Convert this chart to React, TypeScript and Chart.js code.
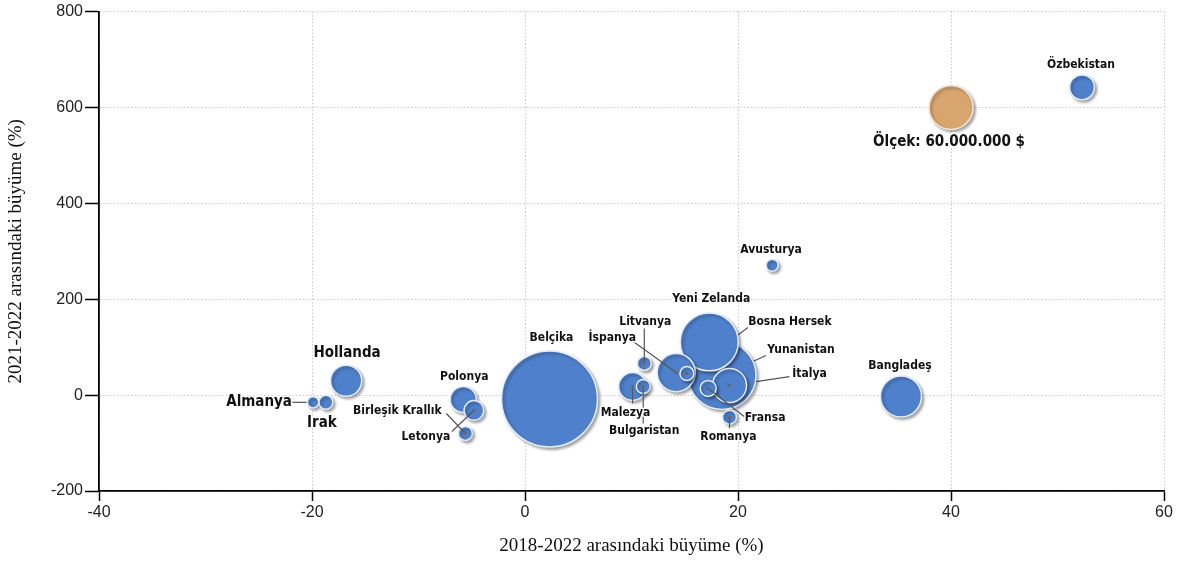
import React, { useEffect, useRef } from 'react';
import { Chart, registerables } from 'chart.js';

Chart.register(...registerables);

// ---- Data ----
const countries = [
  'Belçika', 'Yunanistan', 'Yeni Zelanda', 'İtalya', 'Fransa', 'Romanya', 'İspanya',
  'Bosna Hersek', 'Litvanya', 'Malezya', 'Bulgaristan', 'Avusturya', 'Bangladeş',
  'Özbekistan', 'Hollanda', 'Almanya', 'Irak', 'Polonya', 'Letonya', 'Birleşik Krallık',
];
// 2018-2022 growth (%)
const growth2018 = [2.3, 18.5, 17.3, 19.2, 17.2, 19.2, 14.2, 15.2, 11.2, 10.1, 11.1, 23.2, 35.3, 52.3, -16.8, -19.9, -18.7, -5.8, -4.8, -5.6];
// 2021-2022 growth (%)
const growth2021 = [-8, 41, 111, 20, 14, -46, 47, 45, 66, 18, 18, 271, -3, 642, 30, -15, -15, -9, -32, -80];
// trade value (million $)
const valueMillionUsd = [285, 143, 104, 36, 8, 6, 45, 6, 6, 24, 6, 4.5, 52, 19, 30, 4, 6, 21, 12, 6];

const scaleLabel = ['Ölçek: 60.000.000 $'];
const scaleX = [40];
const scaleY = [600];
const scaleValue = [60];

const xTicks = [-40, -20, 0, 20, 40, 60];
const yTicks = [-200, 0, 200, 400, 600, 800];

const xTitle = '2018-2022 arasındaki büyüme (%)';
const yTitle = '2021-2022 arasındaki büyüme (%)';

// ---- Styling / layout ----
const LABEL_FONT = "'DejaVu Sans Condensed', 'DejaVu Sans', sans-serif";
const TICK_FONT = "'Liberation Sans', Arial, sans-serif";
const TITLE_FONT = "'Liberation Serif', 'Times New Roman', serif";
const BLUE = '#4e80cc';
const TAN = '#d8a56e';

const refRadius = 22; // pixel radius of the 60M$ reference bubble
const toRadius = (v: number) => refRadius * Math.sqrt(v / scaleValue[0]);

type LabelCfg = { dx: number; dy: number; big?: boolean; line?: [number, number, number, number]; under?: boolean; dot?: boolean };
const labelLayout: Record<string, LabelCfg> = {
  'Belçika': { dx: 2, dy: -61 },
  'Yunanistan': { dx: 79, dy: -26, line: [44, -20, 0, 0], under: true },
  'Yeni Zelanda': { dx: 2, dy: -43 },
  'İtalya': { dx: 80, dy: -12, line: [60, -9, 0, 0], under: true, dot: true },
  'Fransa': { dx: 57, dy: 29, line: [0, 0, 36, 28], dot: true },
  'Romanya': { dx: -1, dy: 20, line: [0, 0, 0, 11], dot: true },
  'İspanya': { dx: -64, dy: -35, line: [-43, -31, 0, 0], dot: true },
  'Bosna Hersek': { dx: 103, dy: -52, line: [61, -46, 0, 0], under: true, dot: true },
  'Litvanya': { dx: 1, dy: -42, line: [0, -35, 0, 0], dot: true },
  'Malezya': { dx: -7, dy: 26, line: [0, 0, 0, 17], dot: true },
  'Bulgaristan': { dx: 1, dy: 44, line: [0, 0, 0, 37], dot: true },
  'Avusturya': { dx: -1, dy: -15 },
  'Bangladeş': { dx: -1, dy: -31 },
  'Özbekistan': { dx: -1, dy: -22 },
  'Hollanda': { dx: 1, dy: -28, big: true },
  'Almanya': { dx: -54, dy: 0, big: true, line: [-22, 0, 0, 0], under: true },
  'Irak': { dx: -4, dy: 21, big: true },
  'Polonya': { dx: 1, dy: -23 },
  'Letonya': { dx: -48, dy: 26, line: [-22, 21, 0, 0], dot: true },
  'Birleşik Krallık': { dx: -68, dy: -23, line: [-19, -20, 0, 0], dot: true },
};
const scaleLabelLayout: LabelCfg = { dx: -2, dy: 35, big: true };

function drawLabel(ctx: CanvasRenderingContext2D, text: string, x: number, y: number, big?: boolean) {
  ctx.save();
  ctx.font = `bold ${big ? 15 : 12}px ${LABEL_FONT}`;
  ctx.textAlign = 'center';
  ctx.textBaseline = 'middle';
  ctx.lineJoin = 'round';
  ctx.lineWidth = 3;
  ctx.strokeStyle = 'rgba(255,255,255,0.9)';
  ctx.strokeText(text, x, y);
  ctx.fillStyle = '#111';
  ctx.fillText(text, x, y);
  ctx.restore();
}

const labelPlugin = {
  id: 'bubbleLabels',
  beforeDatasetsDraw(chart: any) {
    const ctx: CanvasRenderingContext2D = chart.ctx;
    const xs = chart.scales.x;
    const ys = chart.scales.y;
    ctx.save();
    ctx.strokeStyle = '#555';
    ctx.lineWidth = 1.2;
    countries.forEach((name, i) => {
      const L = labelLayout[name];
      if (!L || !L.line || !L.under) return;
      const px = xs.getPixelForValue(growth2018[i]);
      const py = ys.getPixelForValue(growth2021[i]);
      ctx.beginPath();
      ctx.moveTo(px + L.line[0], py + L.line[1]);
      ctx.lineTo(px + L.line[2], py + L.line[3]);
      ctx.stroke();
    });
    ctx.restore();
    ctx.save();
    ctx.shadowColor = 'rgba(0,0,0,0.35)';
    ctx.shadowBlur = 3;
    ctx.shadowOffsetX = 2;
    ctx.shadowOffsetY = 2;
  },
  afterDatasetsDraw(chart: any) {
    const ctx: CanvasRenderingContext2D = chart.ctx;
    ctx.restore();
    const xs = chart.scales.x;
    const ys = chart.scales.y;
    ctx.save();
    ctx.strokeStyle = '#555';
    ctx.lineWidth = 1.2;
    countries.forEach((name, i) => {
      const L = labelLayout[name];
      if (!L || !L.line || L.under) return;
      const px = xs.getPixelForValue(growth2018[i]);
      const py = ys.getPixelForValue(growth2021[i]);
      ctx.beginPath();
      ctx.moveTo(px + L.line[0], py + L.line[1]);
      ctx.lineTo(px + L.line[2], py + L.line[3]);
      ctx.stroke();
    });
    ctx.fillStyle = '#666';
    countries.forEach((name, i) => {
      const L = labelLayout[name];
      if (!L || !L.dot) return;
      const px = xs.getPixelForValue(growth2018[i]);
      const py = ys.getPixelForValue(growth2021[i]);
      ctx.beginPath();
      ctx.arc(px, py, 1.6, 0, Math.PI * 2);
      ctx.fill();
    });
    ctx.restore();
    countries.forEach((name, i) => {
      const L = labelLayout[name];
      const px = xs.getPixelForValue(growth2018[i]);
      const py = ys.getPixelForValue(growth2021[i]);
      drawLabel(ctx, name, px + L.dx, py + L.dy, L.big);
    });
    scaleLabel.forEach((t, i) => {
      const px = xs.getPixelForValue(scaleX[i]);
      const py = ys.getPixelForValue(scaleY[i]);
      drawLabel(ctx, t, px + scaleLabelLayout.dx, py + scaleLabelLayout.dy, scaleLabelLayout.big);
    });
  },
};

export default function App() {
  const ref = useRef<HTMLCanvasElement | null>(null);
  useEffect(() => {
    if (!ref.current) return;
    const chart = new Chart(ref.current, {
      type: 'bubble',
      data: {
        datasets: [
          {
            label: 'Ülkeler',
            data: countries.map((_, i) => ({ x: growth2018[i], y: growth2021[i], r: toRadius(valueMillionUsd[i]) })),
            backgroundColor: BLUE,
            borderColor: '#e4ecf8',
            borderWidth: 1.5,
          },
          {
            label: 'Ölçek',
            data: scaleX.map((x, i) => ({ x, y: scaleY[i], r: toRadius(scaleValue[i]) })),
            backgroundColor: TAN,
            borderColor: '#f3e6d6',
            borderWidth: 1.5,
          },
        ],
      },
      options: {
        responsive: false,
        animation: false,
        events: [],
        layout: { autoPadding: false, padding: { left: 0, right: 18, top: 9, bottom: 0 } },
        plugins: { legend: { display: false }, tooltip: { enabled: false } },
        scales: {
          x: {
            type: 'linear',
            min: xTicks[0],
            max: xTicks[xTicks.length - 1],
            afterBuildTicks: (s: any) => { s.ticks = xTicks.map((v) => ({ value: v })); },
            ticks: { font: { family: TICK_FONT, size: 16 }, color: '#222', padding: 2 },
            grid: { color: '#c9c9c9', lineWidth: 1, tickColor: '#000', tickLength: 10, tickWidth: 1.5 },
            border: { display: true, color: '#000', width: 1.8, dash: [1.5, 2] },
            title: { display: true, text: xTitle, font: { family: TITLE_FONT, size: 19 }, color: '#111', padding: { top: 0, bottom: 7 } },
            afterFit: (s: any) => { s.height = 73; },
          },
          y: {
            type: 'linear',
            min: yTicks[0],
            max: yTicks[yTicks.length - 1],
            afterBuildTicks: (s: any) => { s.ticks = yTicks.map((v) => ({ value: v })); },
            ticks: { font: { family: TICK_FONT, size: 16 }, color: '#222', padding: 2 },
            grid: { color: '#c9c9c9', lineWidth: 1, tickColor: '#000', tickLength: 14, tickWidth: 1.5 },
            border: { display: true, color: '#000', width: 1.8, dash: [1.5, 2] },
            title: { display: true, text: yTitle, font: { family: TITLE_FONT, size: 19 }, color: '#111', padding: { top: 5, bottom: 0 } },
            afterFit: (s: any) => { s.width = 99; },
          },
        },
      },
      plugins: [labelPlugin],
    } as any);
    return () => chart.destroy();
  }, []);
  return (
    <div style={{ position: 'absolute', left: 0, top: 0, width: 1182, height: 564, background: '#fff' }}>
      <canvas ref={ref} width={1182} height={564} />
    </div>
  );
}
